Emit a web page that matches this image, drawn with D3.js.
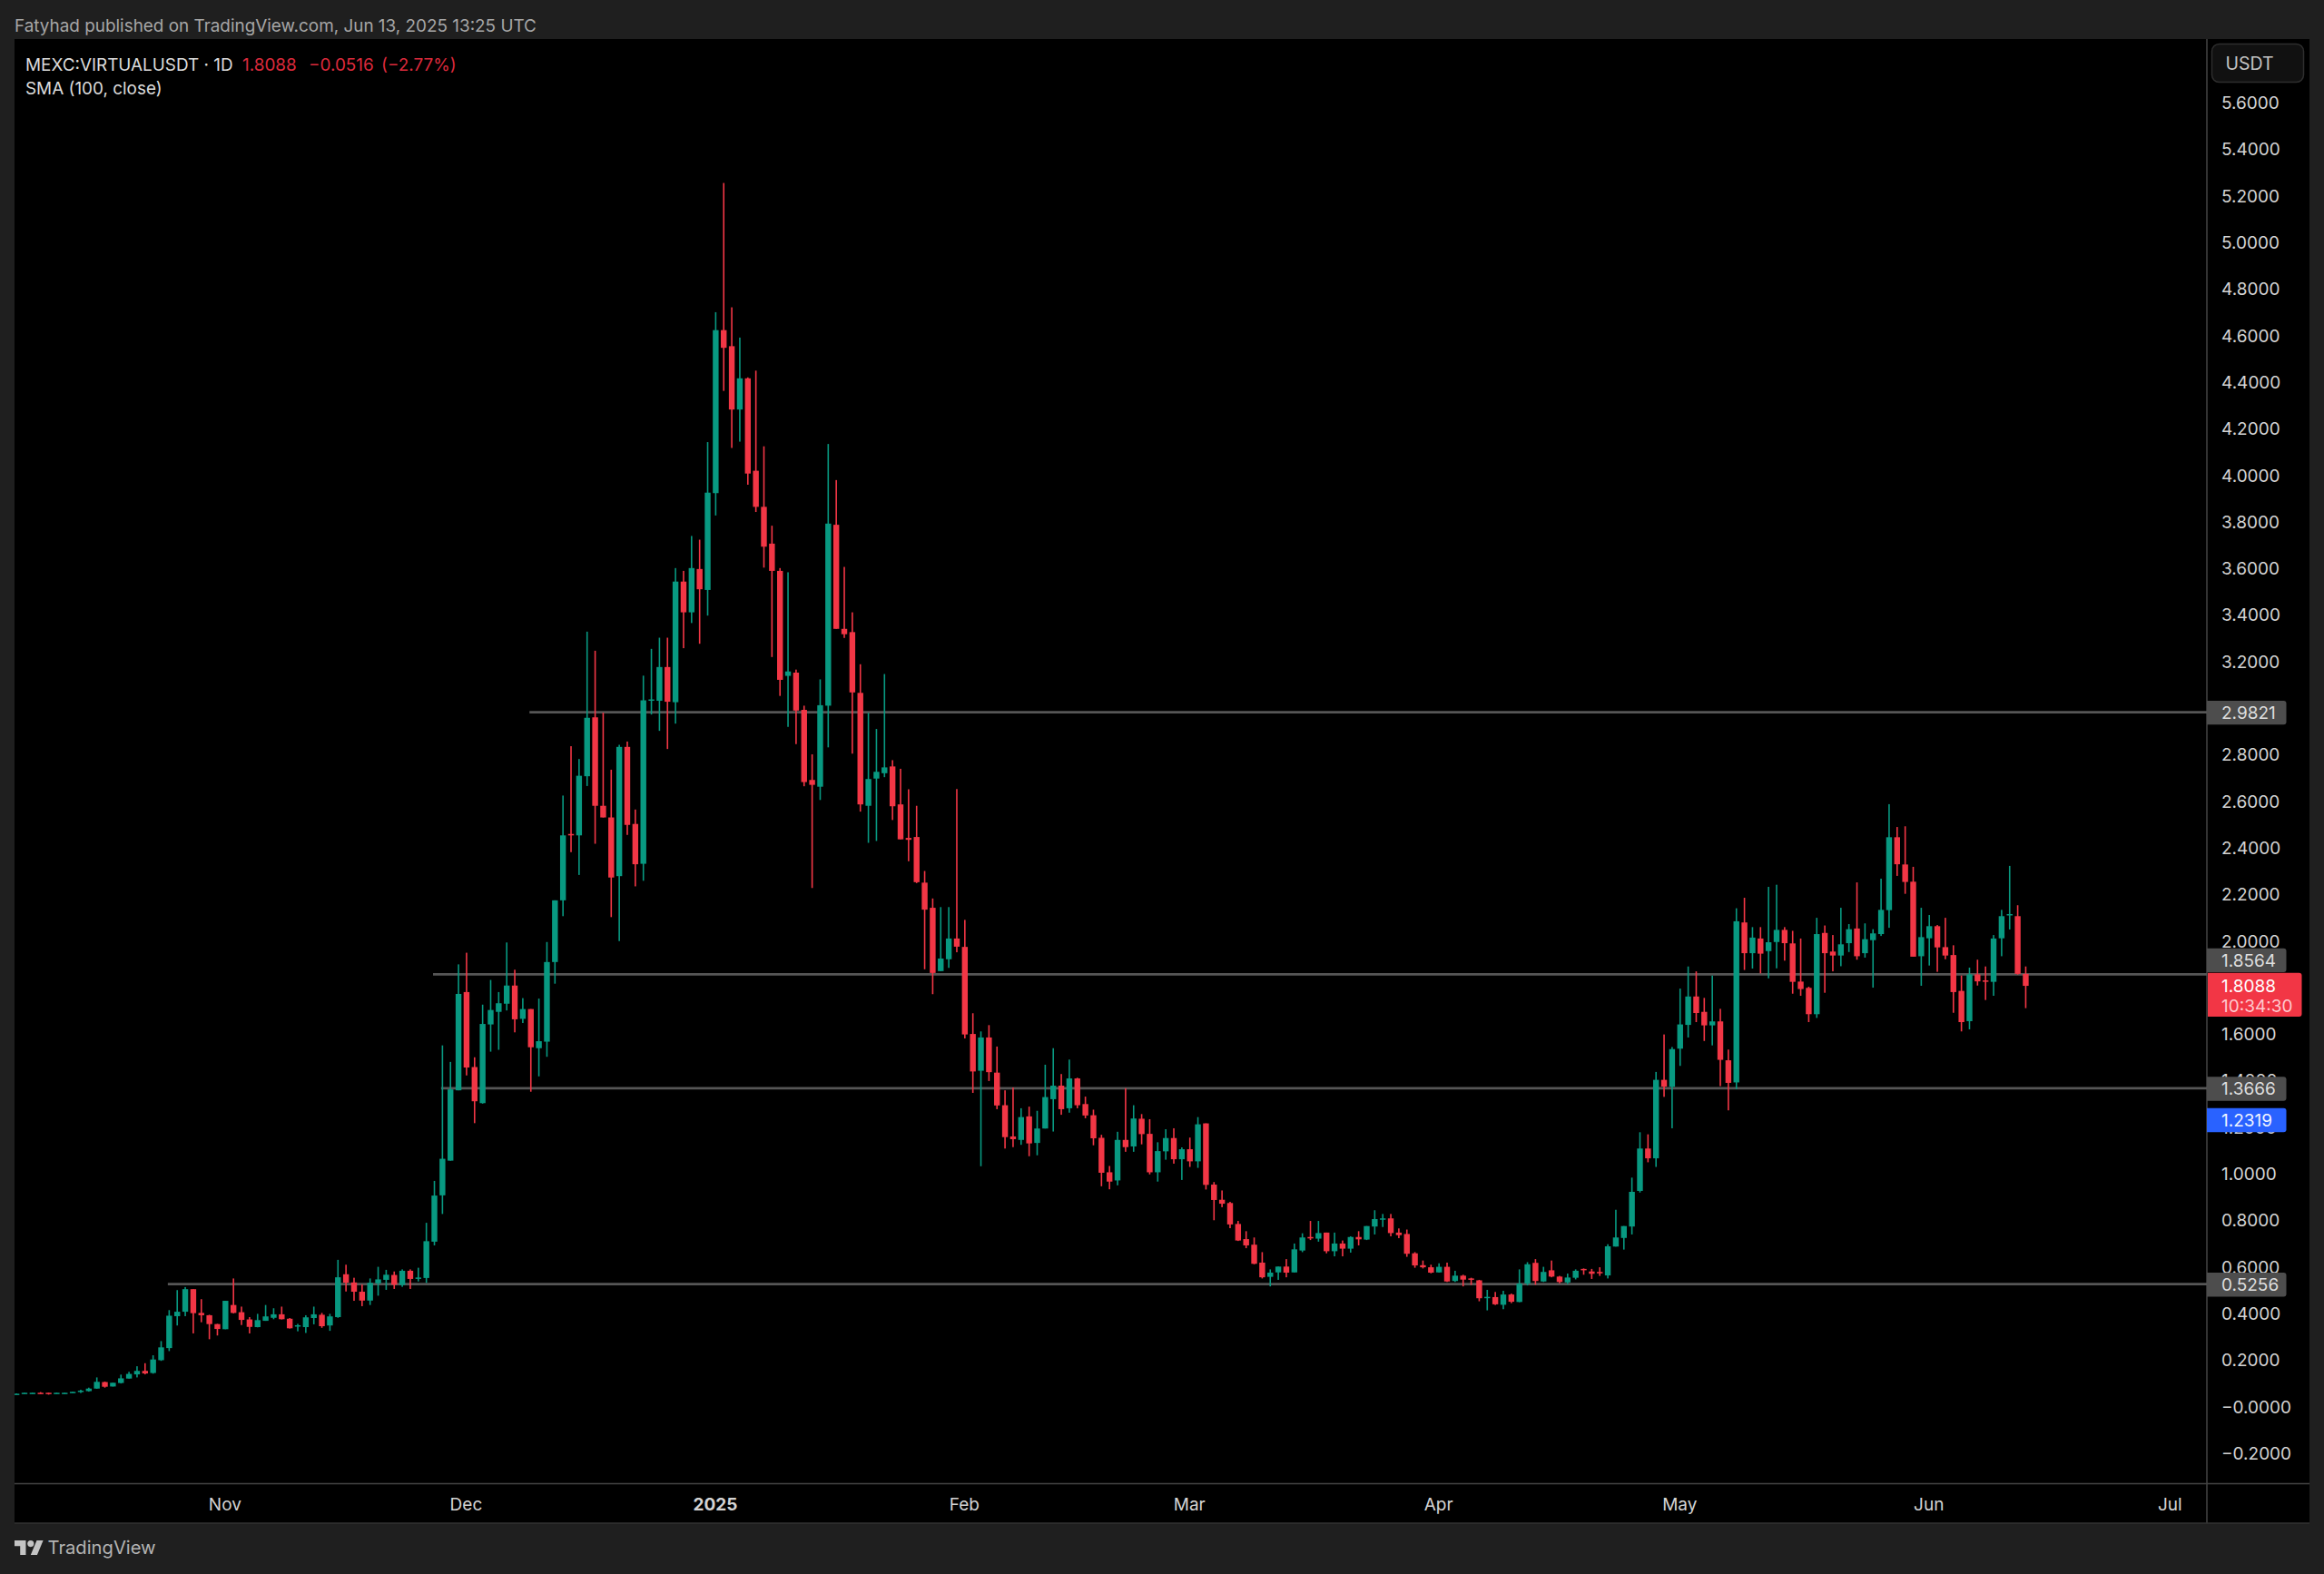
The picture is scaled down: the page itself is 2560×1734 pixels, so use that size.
<!DOCTYPE html>
<html>
<head>
<meta charset="utf-8">
<style>
  html, body { margin: 0; padding: 0; background: #1f1f1f; }
  svg { display: block; }
  text { font-family: Inter, "Noto Sans", sans-serif; }
</style>
<script src="https://cdn.jsdelivr.net/npm/d3@7/dist/d3.min.js"></script>
</head>
<body>
<svg id="chart" width="2560" height="1734"></svg>
<script>
// daily candles, one per day starting at firstDay
var firstDay = "2024-10-06";

var opens = [
  .055,.057,.058,.061,.061,.057,.057,.060,.065,.068,
  .079,.107,.088,.103,.122,.140,.155,.146,.201,.253,
  .390,.409,.506,.404,.394,.356,.334,.438,.407,.376,
  .343,.370,.383,.398,.379,.346,.343,.382,.396,.350,
  .386,.570,.535,.495,.457,.531,.546,.567,.524,.585,
  .552,.554,.710,.909,1.058,1.360,1.782,1.460,1.305,1.643,
  1.697,1.732,1.810,1.667,1.709,1.541,1.569,1.911,2.176,2.461,
  2.455,2.709,2.962,2.582,2.532,2.280,2.835,2.504,2.333,3.033,
  3.033,3.178,3.027,3.545,3.413,3.599,3.509,3.925,4.625,4.556,
  4.284,4.418,4.021,3.866,3.708,3.591,3.140,3.154,2.994,2.693,
  2.664,3.012,3.789,3.342,3.328,3.067,2.582,2.699,2.722,2.751,
  2.588,2.444,2.448,2.252,2.144,1.872,1.923,2.012,1.976,1.602,
  1.444,1.587,1.436,1.296,1.162,1.147,1.248,1.134,1.196,1.322,
  1.380,1.283,1.411,1.301,1.253,1.156,1.008,.973,1.147,1.119,
  1.238,1.173,1.008,1.098,1.155,1.064,1.107,1.055,1.218,.955,
  .890,.876,.786,.721,.697,.620,.559,.578,.603,.578,
  .672,.730,.723,.749,.669,.702,.680,.730,.719,.775,
  .806,.810,.749,.743,.660,.609,.600,.578,.602,.541,
  .564,.552,.544,.469,.472,.439,.483,.451,.530,.619,
  .539,.587,.560,.535,.555,.593,.582,.580,.565,.689,
  .726,.775,.928,1.110,1.068,1.405,1.375,1.539,1.641,1.763,
  1.697,1.639,1.656,1.489,1.394,2.081,1.949,2.012,1.958,1.997,
  2.049,1.991,1.827,1.800,1.687,2.036,1.956,1.939,1.992,2.055,
  1.949,2.005,2.031,2.134,2.447,2.330,2.256,1.936,2.013,2.065,
  1.975,1.941,1.787,1.657,1.858,1.832,1.826,2.013,2.113,2.108,
  1.860
];

var closes = [
  .057,.061,.061,.056,.056,.061,.061,.065,.070,.079,
  .108,.087,.104,.123,.142,.155,.144,.204,.256,.392,
  .409,.506,.403,.394,.356,.335,.456,.404,.374,.344,
  .373,.389,.398,.377,.338,.351,.385,.398,.347,.389,
  .557,.534,.495,.457,.533,.548,.568,.525,.585,.550,
  .556,.712,.908,1.066,1.364,1.774,1.458,1.313,1.645,1.705,
  1.734,1.810,1.665,1.709,1.545,1.571,1.911,2.176,2.455,2.455,
  2.711,2.960,2.582,2.532,2.274,2.835,2.500,2.331,3.035,3.039,
  3.178,3.029,3.545,3.413,3.603,3.512,3.927,4.625,4.549,4.284,
  4.418,4.009,3.866,3.695,3.591,3.123,3.159,2.991,2.684,2.672,
  3.014,3.794,3.342,3.319,3.069,2.588,2.697,2.728,2.747,2.580,
  2.438,2.436,2.254,2.136,1.864,1.926,2.012,1.977,1.600,1.441,
  1.587,1.438,1.295,1.159,1.150,1.245,1.132,1.196,1.331,1.380,
  1.279,1.411,1.296,1.252,1.154,1.006,.968,1.147,1.116,1.239,
  1.172,1.008,1.099,1.155,1.064,1.107,1.055,1.214,.954,.889,
  .873,.784,.715,.694,.615,.557,.577,.603,.577,.677,
  .728,.724,.747,.669,.702,.680,.730,.720,.777,.807,
  .810,.747,.738,.658,.608,.600,.577,.602,.539,.564,
  .547,.548,.467,.473,.441,.483,.452,.530,.613,.541,
  .580,.560,.537,.556,.585,.589,.572,.574,.690,.728,
  .777,.924,1.110,1.068,1.405,1.376,1.537,1.643,1.763,1.692,
  1.639,1.656,1.491,1.392,2.086,1.949,2.016,1.947,1.996,2.049,
  1.992,1.826,1.795,1.687,2.031,1.949,1.939,1.987,2.052,1.936,
  2.009,2.034,2.135,2.447,2.331,2.255,1.934,2.018,2.065,1.974,
  1.939,1.782,1.653,1.858,1.828,1.828,2.012,2.108,2.117,1.860,
  1.8088
];

var highs = [
  .058,.061,.061,.064,.061,.061,.061,.065,.074,.083,
  .127,.109,.104,.139,.151,.175,.188,.222,.283,.416,
  .502,.515,.506,.463,.396,.357,.456,.552,.431,.386,
  .400,.438,.424,.431,.382,.357,.394,.431,.404,.400,
  .632,.611,.555,.526,.552,.602,.589,.582,.591,.591,
  .598,.791,.971,1.553,1.482,1.901,1.951,1.502,1.728,1.834,
  1.782,1.995,1.878,1.756,1.709,1.754,1.997,2.176,2.626,2.838,
  2.783,3.330,3.248,2.982,2.737,2.844,2.858,2.566,3.141,3.256,
  3.304,3.304,3.603,3.591,3.741,3.725,4.144,4.702,5.257,4.723,
  4.593,4.422,4.451,4.126,3.785,3.603,3.585,3.167,3.012,2.803,
  3.125,4.136,3.981,3.608,3.413,3.190,2.981,2.912,3.148,2.778,
  2.741,2.653,2.582,2.302,2.184,2.147,2.147,2.654,2.092,1.691,
  1.613,1.640,1.548,1.360,1.372,1.283,1.290,1.272,1.470,1.541,
  1.430,1.492,1.414,1.333,1.277,1.169,1.035,1.182,1.369,1.296,
  1.258,1.236,1.137,1.193,1.197,1.115,1.157,1.245,1.218,.966,
  .930,.881,.799,.755,.728,.665,.591,.603,.635,.702,
  .746,.799,.799,.749,.749,.715,.733,.755,.777,.845,
  .829,.829,.767,.762,.665,.629,.611,.617,.620,.585,
  .568,.555,.546,.503,.494,.499,.487,.591,.622,.635,
  .602,.629,.563,.573,.591,.595,.593,.600,.699,.847,
  .777,.985,1.180,1.171,1.439,1.600,1.546,1.797,1.892,1.871,
  1.757,1.853,1.710,1.535,2.142,2.187,2.061,2.061,2.234,2.243,
  2.061,2.045,2.012,1.805,2.101,2.068,2.027,2.144,2.074,2.253,
  2.077,2.052,2.269,2.589,2.491,2.494,2.320,2.144,2.113,2.070,
  2.101,1.983,1.853,1.887,1.921,1.892,2.027,2.135,2.324,2.155,
  1.892
];

var lows = [
  .054,.057,.058,.056,.053,.057,.057,.060,.060,.066,
  .078,.083,.088,.101,.122,.127,.140,.143,.198,.240,
  .350,.390,.316,.364,.291,.307,.334,.402,.352,.316,
  .342,.370,.377,.376,.337,.325,.318,.355,.340,.327,
  .383,.496,.456,.433,.438,.478,.503,.507,.516,.507,
  .539,.533,.694,.829,1.058,1.360,1.424,1.219,1.303,1.526,
  1.534,1.703,1.609,1.649,1.354,1.420,1.504,1.818,2.108,2.383,
  2.285,2.667,2.419,2.532,2.104,2.001,2.457,2.236,2.260,2.974,
  2.904,2.826,2.935,3.259,3.367,3.278,3.399,3.829,4.364,4.119,
  4.146,3.961,3.844,3.605,3.221,3.054,2.921,2.847,2.666,2.229,
  2.607,2.833,3.342,3.303,2.806,2.557,2.423,2.431,2.705,2.521,
  2.438,2.344,2.250,1.880,1.773,1.872,1.886,1.953,1.583,1.349,
  1.034,1.400,1.279,1.110,1.116,1.126,1.077,1.081,1.196,1.183,
  1.255,1.264,1.283,1.240,1.124,.948,.935,.952,1.096,1.096,
  1.128,.999,.968,1.062,1.045,.975,1.031,1.027,.934,.802,
  .858,.768,.713,.682,.613,.552,.518,.546,.557,.578,
  .665,.717,.710,.660,.647,.647,.663,.694,.717,.741,
  .773,.733,.725,.645,.598,.595,.574,.577,.537,.537,
  .518,.524,.454,.415,.438,.420,.446,.450,.522,.525,
  .537,.557,.531,.528,.548,.568,.550,.563,.552,.689,
  .676,.741,.921,1.051,1.031,1.332,1.197,1.465,1.587,1.653,
  1.572,1.553,1.378,1.274,1.365,1.877,1.883,1.862,1.841,1.884,
  1.917,1.775,1.766,1.653,1.671,1.779,1.871,1.893,1.954,1.921,
  1.930,1.801,2.023,2.058,2.281,2.204,1.934,1.809,1.896,1.869,
  1.923,1.693,1.613,1.622,1.810,1.748,1.766,1.936,2.051,1.857,
  1.713
];

var priceTicks = [5.6,5.4,5.2,5,4.8,4.6,4.4,4.2,4,3.8,3.6,3.4,3.2,3,2.8,2.6,2.4,2.2,2,1.8,1.6,1.4,1.2,1,0.8,0.6,0.4,0.2,0,-0.2];
var monthTicks = ["2024-11-01","2024-12-01","2025-01-01","2025-02-01","2025-03-01","2025-04-01","2025-05-01","2025-06-01","2025-07-01"];
var monthLabels = ["Nov","Dec","2025","Feb","Mar","Apr","May","Jun","Jul"];

// support and resistance lines drawn on the chart
var levelPrices = [2.9821, 1.8564, 1.3666, 0.5256];
var levelStarts = ["2024-12-09", "2024-11-27", "2024-11-28", "2024-10-25"];

var UP = "#089981", DOWN = "#f23645";
var FONT = 19;

var parseDay = d3.utcParse("%Y-%m-%d");
var start = parseDay(firstDay);
var days = closes.map(function(c, i) { return d3.utcDay.offset(start, i); });

var paneLeft = 16, paneTop = 43, paneBottom = 1634, axisX = 2431, paneRight = 2544, paneEnd = 1678;

var x = d3.scaleUtc()
  .domain([start, parseDay("2025-07-01")])
  .range([18.15, 2390.8]);
var y = d3.scaleLinear()
  .domain([0, 5.6])
  .range([1550, 113.6]);

var svg = d3.select("#chart");

svg.append("rect").attr("width", 2560).attr("height", 1734).attr("fill", "#1f1f1f");
svg.append("rect")
  .attr("x", paneLeft).attr("y", paneTop)
  .attr("width", paneRight - paneLeft).attr("height", paneEnd - paneTop)
  .attr("fill", "#000");

svg.append("defs").append("clipPath").attr("id", "plot")
  .append("rect")
  .attr("x", paneLeft).attr("y", paneTop)
  .attr("width", axisX - paneLeft).attr("height", paneBottom - paneTop);

// price scale
var yAxis = d3.axisRight(y)
  .tickValues(priceTicks)
  .tickSize(0)
  .tickPadding(0)
  .tickFormat(function(d) {
    if (d === 0) return "\u22120.0000";
    return d3.format(".4f")(d).replace("-", "\u2212");
  });
var yG = svg.append("g").attr("transform", "translate(2447,0)").call(yAxis);
yG.select(".domain").remove();
yG.selectAll("text")
  .attr("fill", "#d4d4d4").attr("font-size", FONT).attr("dy", "0.32em");

// time scale
var xAxis = d3.axisBottom(x)
  .tickValues(monthTicks.map(parseDay))
  .tickSize(0)
  .tickPadding(0)
  .tickFormat(function(d, i) { return monthLabels[i]; });
var xG = svg.append("g").attr("transform", "translate(-1,1658)").call(xAxis);
xG.select(".domain").remove();
xG.selectAll("text")
  .attr("fill", "#d4d4d4").attr("font-size", FONT).attr("dy", "0.32em")
  .attr("font-weight", function(d, i) { return monthLabels[i] === "2025" ? 700 : 400; });

// pane separators
var SEP = "#444";
svg.append("line").attr("x1", paneLeft).attr("x2", paneRight).attr("y1", paneBottom + 0.5).attr("y2", paneBottom + 0.5).attr("stroke", SEP).attr("stroke-width", 1.5);
svg.append("line").attr("x1", axisX).attr("x2", axisX).attr("y1", paneTop).attr("y2", paneEnd).attr("stroke", SEP).attr("stroke-width", 1.5);
svg.append("line").attr("x1", paneLeft).attr("x2", paneRight).attr("y1", paneEnd).attr("y2", paneEnd).attr("stroke", "#333").attr("stroke-width", 1.5);

var plot = svg.append("g").attr("clip-path", "url(#plot)");

// levels
plot.selectAll("line.level")
  .data(levelPrices)
  .enter()
  .append("line")
  .attr("class", "level")
  .attr("x1", function(d, i) { return x(parseDay(levelStarts[i])) - 1.5; })
  .attr("x2", axisX)
  .attr("y1", function(d) { return y(d) - 0.5; })
  .attr("y2", function(d) { return y(d) - 0.5; })
  .attr("stroke", "#565656")
  .attr("stroke-width", 2.8);

// candles
var candle = plot.selectAll("g.candle")
  .data(days)
  .enter()
  .append("g")
  .attr("class", "candle");

candle.append("rect")
  .attr("x", function(d) { return x(d) - 0.8; })
  .attr("width", 1.6)
  .attr("y", function(d, i) { return y(highs[i]); })
  .attr("height", function(d, i) { return Math.max(y(lows[i]) - y(highs[i]), 1); })
  .attr("fill", function(d, i) { return closes[i] >= opens[i] ? UP : DOWN; });

candle.append("rect")
  .attr("x", function(d) { return x(d) - 3.2; })
  .attr("width", 6.4)
  .attr("y", function(d, i) { return y(Math.max(opens[i], closes[i])); })
  .attr("height", function(d, i) { return Math.max(Math.abs(y(opens[i]) - y(closes[i])), 1.5); })
  .attr("fill", function(d, i) { return closes[i] >= opens[i] ? UP : DOWN; });

// price labels on the scale
var tagPrices = [2.9821, 1.8564, 1.3666, 1.2319, 0.5256];
var tagColors = ["#4d4d4d", "#4d4d4d", "#4d4d4d", "#2962ff", "#4d4d4d"];
var tagShift = [0, -16, 0, 0, 0];

tagPrices.forEach(function(p, i) {
  var cy = y(p) + tagShift[i];
  svg.append("path")
    .attr("d", "M" + axisX + "," + (cy - 13.2) + "h84.5a3,3 0 0 1 3,3v20.4a3,3 0 0 1 -3,3h-84.5z")
    .attr("fill", tagColors[i]);
  svg.append("text")
    .attr("x", 2447).attr("y", cy).attr("dy", "0.36em")
    .attr("fill", i === 3 ? "#f0f4ff" : "#dedede").attr("font-size", FONT)
    .text(p.toFixed(4));
});

// last price box with the countdown
var lastY = y(closes[closes.length - 1]);
svg.append("path")
  .attr("d", "M" + (axisX + 1) + "," + (lastY - 14.3) + "h100.5a3,3 0 0 1 3,3v42.3a3,3 0 0 1 -3,3h-100.5z")
  .attr("fill", DOWN);
svg.append("text").attr("x", 2447).attr("y", lastY).attr("dy", "0.36em")
  .attr("fill", "#fff").attr("font-size", FONT).text("1.8088");
svg.append("text").attr("x", 2447).attr("y", lastY + 22).attr("dy", "0.36em")
  .attr("fill", "#ffc9ce").attr("font-size", FONT).text("10:34:30");

// currency button
svg.append("rect")
  .attr("x", 2436.5).attr("y", 48.5).attr("width", 101).attr("height", 42).attr("rx", 8)
  .attr("fill", "#111").attr("stroke", "#2e2e2e").attr("stroke-width", 1.5);
svg.append("text").attr("x", 2451.5).attr("y", 70).attr("dy", "0.36em")
  .attr("fill", "#c4c4c4").attr("font-size", 19.5).text("USDT");

// header and legend
svg.append("text").attr("x", 16).attr("y", 28).attr("dy", "0.36em")
  .attr("fill", "#a6a6a6").attr("font-size", 18.9)
  .text("Fatyhad published on TradingView.com, Jun 13, 2025 13:25 UTC");
svg.append("text").attr("x", 28).attr("y", 71.5).attr("dy", "0.36em")
  .attr("fill", "#dcdcdc").attr("font-size", 18.9)
  .text("MEXC:VIRTUALUSDT \u00b7 1D");
svg.append("text").attr("x", 267).attr("y", 71.5).attr("dy", "0.36em")
  .attr("fill", "#dd2a3c").attr("font-size", 18.9).text("1.8088");
svg.append("text").attr("x", 340).attr("y", 71.5).attr("dy", "0.36em")
  .attr("fill", "#dd2a3c").attr("font-size", 18.9).text("\u22120.0516");
svg.append("text").attr("x", 420).attr("y", 71.5).attr("dy", "0.36em")
  .attr("fill", "#dd2a3c").attr("font-size", 18.9).text("(\u22122.77%)");
svg.append("text").attr("x", 28).attr("y", 97.5).attr("dy", "0.36em")
  .attr("fill", "#dcdcdc").attr("font-size", 18.9).text("SMA (100, close)");

// footer logo
var logo = svg.append("g").attr("transform", "translate(16,1693.5) scale(0.89)").attr("fill", "#c4c4c4");
logo.append("path").attr("d", "M14 22H7V11H0V4h14v18zM28 22h-8l7.5-18h8L28 22z");
logo.append("circle").attr("cx", 20).attr("cy", 8).attr("r", 4);
svg.append("text").attr("x", 52.5).attr("y", 1705).attr("dy", "0.36em")
  .attr("fill", "#b4b4b4").attr("font-size", 20.2).text("TradingView");
</script>
</body>
</html>
